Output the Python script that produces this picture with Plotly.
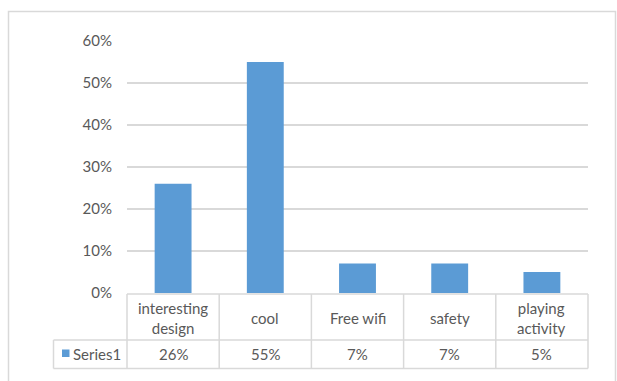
import plotly.graph_objects as go

# Survey results: share of respondents per reason
categories = ["interesting<br>design", "cool", "Free wifi", "safety", "playing<br>activity"]
values = [0.26, 0.55, 0.07, 0.07, 0.05]
series_name = "Series1"
y_ticks = [0, 0.1, 0.2, 0.3, 0.4, 0.5, 0.6]

BAR = "#5b9bd5"
GRID = "#d9d9d9"
TXT = "#595959"
FONT = "Lato, 'Open Sans', sans-serif"
FS = 15

W, H = 617, 381
ML, MR, MT, MB = 127, 29, 41, 88
PW, PH = W - ML - MR, H - MT - MB


def px_x(px):
    return (px - ML) / PW


def px_y(py):
    return (H - MB - py) / PH


fig = go.Figure(
    go.Bar(
        x=list(range(len(values))),
        y=values,
        marker=dict(color=BAR, line=dict(width=0)),
        name=series_name,
        hoverinfo="skip",
    )
)

n = len(categories)
shapes = []
annotations = []

# outer chart frame
shapes.append(dict(type="rect", xref="paper", yref="paper",
                   x0=px_x(8.5), x1=px_x(615.5), y0=px_y(395), y1=px_y(11.5),
                   line=dict(color=GRID, width=1.5), fillcolor="rgba(0,0,0,0)", layer="below"))

# data table grid under the axis
top, mid, bot = 294, 340, 368.5
left_cell = 53.5
tl = dict(color=GRID, width=1.5)
shapes.append(dict(type="line", xref="paper", yref="paper", x0=0, x1=1, y0=px_y(top), y1=px_y(top), line=tl))
shapes.append(dict(type="line", xref="paper", yref="paper", x0=px_x(left_cell), x1=1, y0=px_y(mid), y1=px_y(mid), line=tl))
shapes.append(dict(type="line", xref="paper", yref="paper", x0=px_x(left_cell), x1=1, y0=px_y(bot), y1=px_y(bot), line=tl))
shapes.append(dict(type="line", xref="paper", yref="paper", x0=px_x(left_cell), x1=px_x(left_cell),
                   y0=px_y(mid), y1=px_y(bot), line=tl))
for k in range(n + 1):
    shapes.append(dict(type="line", xref="paper", yref="paper", x0=k / n, x1=k / n,
                       y0=px_y(top), y1=px_y(bot), line=tl))

# legend key in the table
shapes.append(dict(type="rect", xref="paper", yref="paper",
                   x0=px_x(62), x1=px_x(69.5), y0=px_y(357), y1=px_y(349.5),
                   fillcolor=BAR, line=dict(width=0)))
annotations.append(dict(xref="paper", yref="paper", x=px_x(71), y=px_y((mid + bot) / 2),
                        text=series_name, showarrow=False, xanchor="left", yanchor="middle",
                        font=dict(family=FONT, size=FS, color=TXT)))

for i, (c, v) in enumerate(zip(categories, values)):
    xc = (i + 0.5) / n
    annotations.append(dict(xref="paper", yref="paper", x=xc, y=px_y((top + mid) / 2 + 1),
                            text=c, showarrow=False, xanchor="center", yanchor="middle",
                            font=dict(family=FONT, size=FS, color=TXT)))
    annotations.append(dict(xref="paper", yref="paper", x=xc, y=px_y((mid + bot) / 2),
                            text=f"{round(v * 100)}%", showarrow=False, xanchor="center", yanchor="middle",
                            font=dict(family=FONT, size=FS, color=TXT)))

fig.update_layout(
    width=W, height=H,
    margin=dict(l=ML, r=MR, t=MT, b=MB),
    paper_bgcolor="white", plot_bgcolor="white",
    showlegend=False,
    bargap=0.6,
    shapes=shapes,
    annotations=annotations,
    xaxis=dict(range=[-0.5, n - 0.5], showticklabels=False, showgrid=False,
               zeroline=False, showline=False, fixedrange=True),
    yaxis=dict(range=[0, 0.6], tickvals=y_ticks, tickformat=".0%",
               showgrid=True, gridcolor=GRID, gridwidth=1.5, zeroline=False, showline=False,
               ticklabelstandoff=14,
               tickfont=dict(family=FONT, size=FS, color=TXT), fixedrange=True),
    font=dict(family=FONT),
)

fig.write_html("out.html")
